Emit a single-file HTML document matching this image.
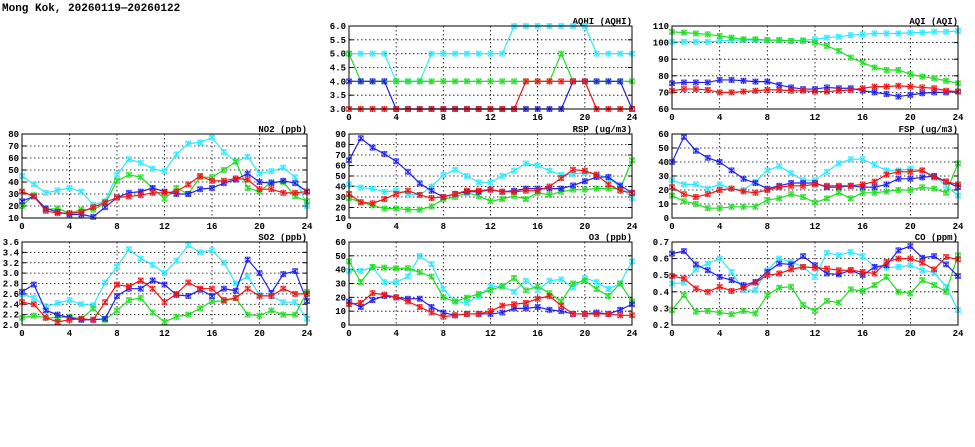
<!DOCTYPE html>
<html><head><meta charset="utf-8"><style>
body{margin:0;background:#fff;width:975px;height:447px;overflow:hidden}
svg{display:block}
text{font-family:"Liberation Mono","DejaVu Sans Mono",monospace;font-weight:bold;font-size:9px;fill:#000}
</style></head><body>
<svg id="s" width="975" height="447" xmlns="http://www.w3.org/2000/svg">
<text x="2" y="11" style="font-size:11px">Mong Kok, 20260119—20260122</text>
</svg>
<script>
const C=['#30e8ff','#22dd22','#2020ee','#ee1515'];
const P=[
{t:'AQHI (AQHI)',x0:349,x1:632,y0:26,y1:109,min:3,max:6,step:0.5,f:1,d:[
[5,5,5,5,4,4,4,5,5,5,5,5,5,5,6,6,6,6,6,6,6,5,5,5,5],
[5,4,4,4,4,4,4,4,4,4,4,4,4,4,4,4,4,4,5,4,4,4,4,4,4],
[4,4,4,4,3,3,3,3,3,3,3,3,3,3,3,3,3,3,3,4,4,4,4,4,3],
[3,3,3,3,3,3,3,3,3,3,3,3,3,3,3,4,4,4,4,4,4,3,3,3,3]]},
{t:'AQI (AQI)',x0:672,x1:958,y0:26,y1:109,min:60,max:110,step:10,f:0,d:[
[100.5,100.5,100.5,100.5,101,101.5,101.5,101.5,101.5,101.5,101,101.5,102,103,103.5,104.5,105,105.5,105.5,105.5,106,106,106.5,106.5,107],
[106.5,106,105.5,105,104,103,102,102,101.5,101.5,101,101,100,98,95,91,88,85,83.5,83.5,81,79.5,78.5,77,75.5],
[75.5,76,76,76,77.5,77.5,77,76.5,76.5,74.5,73,72,72,73,72.5,72.5,71,70,69,67.5,68.5,69.5,70,70,70.5],
[71,72,72,71.5,70,70,70.5,71,71.5,71.5,71,71,70.5,70.5,71,71.5,72.5,73.5,73.5,74,73.5,73,72.5,71,70.5]]},
{t:'NO2 (ppb)',x0:22,x1:307,y0:134,y1:218,min:10,max:80,step:10,f:0,d:[
[45,38,31,33,35,32,21,24,46,59,56,51,49,63,72,73,77,65,57,61,47,49,52,44,20],
[20,29,17,18,14,17,17,22,41,46,44,35,26,35,30,44,44,50,57,35,32,40,40,28,24],
[24,28,18,15,13,13,11,19,27,31,32,35,32,30,30,34,35,39,42,47,40,39,41,39,32],
[32,28,16,14,14,15,19,23,27,28,29,31,31,32,38,45,41,41,43,42,34,34,31,31,32]]},
{t:'RSP (ug/m3)',x0:349,x1:632,y0:134,y1:218,min:10,max:90,step:10,f:0,d:[
[42,39,38,35,36,33,32,40,51,56,50,44,44,50,55,62,60,55,51,52,53,52,48,40,29],
[29,25,22,19,19,18,18,21,28,30,34,31,26,28,31,28,34,32,35,37,37,38,38,38,65],
[65,86,77,71,64,54,43,36,30,33,35,35,37,35,36,38,38,38,38,41,45,49,49,41,34],
[33,25,24,28,33,36,32,29,30,33,36,36,37,35,35,36,36,40,48,56,55,51,42,36,34]]},
{t:'FSP (ug/m3)',x0:672,x1:958,y0:134,y1:218,min:0,max:60,step:10,f:0,d:[
[27,24,24,21,24,21,20,26,34,37,32,27,27,33,39,42,42,38,34,34,35,34,30,23,16],
[16,12,10,7,7,8,8,8,13,14,17,15,11,14,18,14,18,18,19,20,20,22,21,18,39],
[40,58,48,43,40,34,28,25,21,23,25,25,25,22,22,23,22,22,24,28,28,29,30,26,22],
[22,17,15,17,20,21,19,18,20,22,23,23,24,23,23,23,24,26,31,33,33,34,29,26,24]]},
{t:'SO2 (ppb)',x0:22,x1:307,y0:242,y1:325,min:2,max:3.6,step:0.2,f:1,d:[
[2.6,2.52,2.36,2.42,2.48,2.4,2.38,2.82,3.12,3.46,3.28,3.16,3.0,3.24,3.54,3.4,3.44,3.2,2.8,2.94,2.58,2.56,2.44,2.44,2.12],
[2.14,2.18,2.14,2.14,2.16,2.12,2.32,2.1,2.28,2.48,2.52,2.24,2.06,2.16,2.2,2.32,2.46,2.46,2.52,2.2,2.18,2.28,2.2,2.2,2.64],
[2.64,2.78,2.28,2.2,2.14,2.1,2.1,2.12,2.56,2.7,2.7,2.86,2.78,2.58,2.56,2.68,2.56,2.7,2.66,3.26,3.0,2.62,2.98,3.04,2.46],
[2.44,2.4,2.14,2.06,2.1,2.12,2.1,2.44,2.78,2.74,2.86,2.7,2.44,2.6,2.82,2.7,2.7,2.48,2.52,2.7,2.56,2.56,2.7,2.6,2.6]]},
{t:'O3 (ppb)',x0:349,x1:632,y0:242,y1:325,min:0,max:60,step:10,f:0,d:[
[39,39,42,31,31,35,50,44,26,17,16,21,28,28,24,32,25,32,33,27,34,31,26,30,46],
[46,31,42,41.5,41,41,38,35,20,17,19.8,22.5,25.3,28,34,25,28,23,17,30,32,26,21,30,17],
[17,13,18,21,20,19,19,13,9,7,8,8,8,9,12,12,13,11,10,8,8,9,8,11,15],
[15,16,23,22,20,17,13,9,6,7,8,8,10,14,15,16,19,21,14,8,8,8,8,7,7]]},
{t:'CO (ppm)',x0:672,x1:958,y0:242,y1:325,min:0.2,max:0.7,step:0.1,f:1,d:[
[.45,.455,.535,.57,.60,.52,.41,.41,.53,.60,.58,.55,.49,.635,.62,.64,.615,.55,.545,.55,.56,.53,.515,.43,.29],
[.29,.38,.28,.285,.275,.265,.285,.27,.38,.425,.43,.32,.285,.345,.335,.415,.405,.44,.49,.40,.39,.47,.44,.40,.62],
[.63,.645,.565,.53,.49,.47,.44,.46,.52,.57,.565,.615,.56,.51,.505,.53,.50,.55,.56,.65,.675,.605,.615,.565,.495],
[.495,.48,.42,.40,.43,.405,.425,.455,.50,.51,.535,.55,.545,.54,.53,.53,.52,.51,.58,.60,.60,.575,.535,.61,.595]]}
];
let h='';
for(const p of P){
 const X=i=>p.x0+(p.x1-p.x0)*i/24, Y=v=>p.y1-(p.y1-p.y0)*(v-p.min)/(p.max-p.min);
 const n=Math.round((p.max-p.min)/p.step);
 for(let k=0;k<=n;k++){const v=p.min+k*p.step,y=Y(v);
  if(k>0&&k<n)h+=`<line x1="${p.x0}" x2="${p.x1}" y1="${y}" y2="${y}" stroke="#000" stroke-width="0.8" stroke-dasharray="1.5,2.5"/>`;
  h+=`<line x1="${p.x0}" x2="${p.x0+4}" y1="${y}" y2="${y}" stroke="#000"/><line x1="${p.x1-4}" x2="${p.x1}" y1="${y}" y2="${y}" stroke="#000"/>`;
  h+=`<text x="${p.x0-3}" y="${y+3}" text-anchor="end">${v.toFixed(p.f)}</text>`;}
 for(let i=0;i<=24;i+=4){const x=X(i);
  if(i>0&&i<24)h+=`<line x1="${x}" x2="${x}" y1="${p.y0}" y2="${p.y1}" stroke="#000" stroke-width="0.8" stroke-dasharray="1.5,2.5"/>`;
  h+=`<text x="${x}" y="${p.y1+11}" text-anchor="middle">${i}</text>`;}
 h+=`<text x="${p.x1}" y="${p.y0-2}" text-anchor="end">${p.t}</text>`;
 p.d.forEach((s,j)=>{
  h+=`<polyline fill="none" stroke="${C[j]}" stroke-width="1.2" points="${s.map((v,i)=>X(i)+','+Y(v)).join(' ')}"/>`;
  s.forEach((v,i)=>{const x=X(i),y=Y(v);
   h+=`<rect x="${x-2.5}" y="${y-2.5}" width="5" height="5" fill="none" stroke="${C[j]}" stroke-width="0.8" opacity="0.7"/><path d="M${x-2.5} ${y-2.5}L${x+2.5} ${y+2.5}M${x-2.5} ${y+2.5}L${x+2.5} ${y-2.5}M${x} ${y-3}V${y+3}" stroke="${C[j]}" stroke-width="1"/>`;});
 });
 h+=`<rect x="${p.x0}" y="${p.y0}" width="${p.x1-p.x0}" height="${p.y1-p.y0}" fill="none" stroke="#000" stroke-width="1"/>`;
}
document.getElementById('s').insertAdjacentHTML('beforeend',h);
</script>
</body></html>
